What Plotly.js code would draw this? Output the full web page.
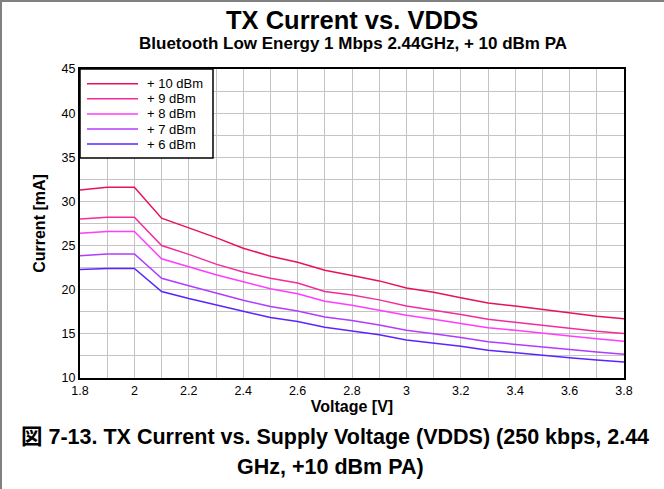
<!DOCTYPE html>
<html>
<head>
<meta charset="utf-8">
<script src="https://cdn.plot.ly/plotly-3.0.1.min.js"></script>
<style>
html,body{margin:0;padding:0;background:#fff;}
#frame{position:absolute;left:0;top:0;width:664px;height:489px;box-sizing:border-box;border-top:2px solid #808080;border-left:2px solid #808080;pointer-events:none;}
#chart{position:absolute;left:0;top:0;width:664px;height:489px;}
</style>
</head>
<body>
<div id="chart"></div>
<div id="frame"></div>
<script>
const voltage = [1.8,1.9,2.0,2.1,2.2,2.3,2.4,2.5,2.6,2.7,2.8,2.9,3.0,3.1,3.2,3.3,3.4,3.5,3.6,3.7,3.8];
const seriesNames = ["+ 10 dBm","+ 9 dBm","+ 8 dBm","+ 7 dBm","+ 6 dBm"];
const pa10dBm = [31.3,31.6,31.6,28.1,27.0,25.9,24.7,23.8,23.1,22.2,21.6,21.0,20.2,19.7,19.1,18.5,18.15,17.75,17.4,17.0,16.7];
const pa9dBm  = [28.0,28.2,28.2,25.0,24.0,22.9,22.0,21.3,20.75,19.8,19.4,18.85,18.15,17.7,17.2,16.65,16.3,15.95,15.65,15.3,15.05];
const pa8dBm  = [26.4,26.6,26.6,23.5,22.6,21.7,20.9,20.1,19.55,18.7,18.25,17.7,17.1,16.65,16.2,15.7,15.4,15.05,14.75,14.45,14.15];
const pa7dBm  = [23.85,24.05,24.05,21.3,20.45,19.6,18.8,18.1,17.6,16.9,16.5,16.0,15.4,15.0,14.6,14.1,13.8,13.5,13.25,12.95,12.7];
const pa6dBm  = [22.3,22.4,22.4,19.8,19.0,18.25,17.55,16.85,16.4,15.75,15.3,14.9,14.3,13.95,13.6,13.15,12.85,12.55,12.3,12.05,11.8];
const colors = ["#e8125a","#f22c9c","#ff3cff","#b03cff","#5a24ff"];
const allSeries = [pa10dBm,pa9dBm,pa8dBm,pa7dBm,pa6dBm];

const font = "Liberation Sans, Arial, Noto Sans CJK JP, sans-serif";
const traces = allSeries.map((s,i)=>({
  x: voltage, y: s, type:"scatter", mode:"lines", name: seriesNames[i],
  line:{color:colors[i], width:1.5}
}));

const M = {l:80, r:40, t:69, b:111};
const W = 664, H = 489;
const plotH = H-M.t-M.b, plotW = W-M.l-M.r;
function py(pix){ return (H-M.b-pix)/plotH; }
function px(pix){ return (pix-M.l)/plotW; }

const shapes = [
  {type:"rect", xref:"paper", yref:"paper", x0:0, x1:px(213), y0:py(158), y1:1, layer:"above",
   fillcolor:"#fff", line:{color:"#000", width:1.5}}
];
const annotations = [
  {text:"<b>TX Current vs. VDDS</b>", x:px(352), y:py(20), font:{size:25.5}},
  {text:"<b>Bluetooth Low Energy 1 Mbps 2.44GHz, + 10 dBm PA</b>", x:px(353), y:py(44), font:{size:17}},
  {text:"<b>図 7-13. TX Current vs. Supply Voltage (VDDS) (250 kbps, 2.44</b>", x:px(335), y:py(437), font:{size:21.5}},
  {text:"<b>GHz, +10 dBm PA)</b>", x:px(330), y:py(467), font:{size:21.5}}
].map(a=>Object.assign({xref:"paper", yref:"paper", xanchor:"center", yanchor:"middle", showarrow:false}, a));

seriesNames.forEach((n,i)=>{
  const yy = py(83.7 + i*15.1);
  shapes.push({type:"line", xref:"paper", yref:"paper", x0:px(87), x1:px(138), y0:yy, y1:yy, layer:"above",
               line:{color:colors[i], width:1.5}});
  annotations.push({text:n, xref:"paper", yref:"paper", x:px(145), y:yy, xanchor:"left", yanchor:"middle",
                    showarrow:false, font:{size:13}});
});

const layout = {
  width:W, height:H,
  margin:M,
  paper_bgcolor:"#fff", plot_bgcolor:"#fff",
  font:{family:font, size:12, color:"#000"},
  showlegend:false,
  xaxis:{range:[1.8,3.8], dtick:0.2, tick0:1.8, showgrid:true, gridcolor:"#c4c4c4", gridwidth:1,
         minor:{dtick:0.1, showgrid:true, gridcolor:"#c4c4c4", gridwidth:1},
         showline:true, linecolor:"#000", linewidth:2, mirror:true, zeroline:false, ticks:"",
         tickfont:{size:12.5},
         title:{text:"<b>Voltage [V]</b>", font:{size:16}, standoff:1}},
  yaxis:{range:[10,45], dtick:5, showgrid:true, gridcolor:"#c4c4c4", gridwidth:1,
         minor:{dtick:2.5, showgrid:true, gridcolor:"#c4c4c4", gridwidth:1},
         showline:true, linecolor:"#000", linewidth:2, mirror:true, zeroline:false, ticks:"",
         tickfont:{size:12.5},
         title:{text:"<b>Current [mA]</b>", font:{size:16}, standoff:12}},
  shapes:shapes,
  annotations:annotations
};
Plotly.newPlot("chart", traces, layout, {displayModeBar:false, staticPlot:true});
</script>
</body>
</html>
